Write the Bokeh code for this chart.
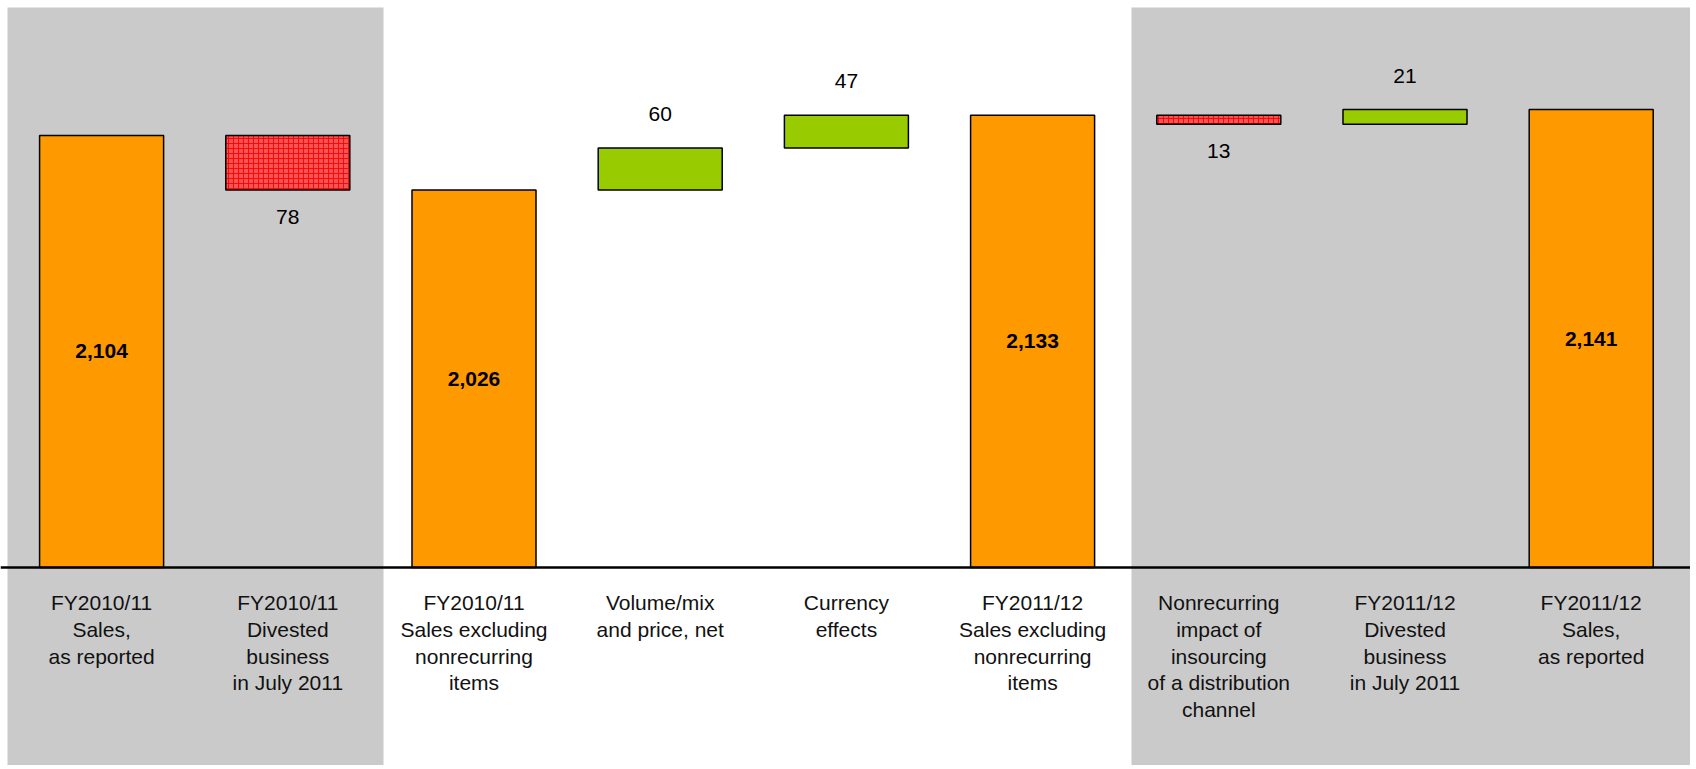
from bokeh.plotting import figure
from bokeh.models import ColumnDataSource, BoxAnnotation, Span, Range1d
from bokeh.core.properties import value
from bokeh.embed import file_html
from bokeh.resources import INLINE

# ---- data ----
categories = [
    "FY2010/11\nSales,\nas reported",
    "FY2010/11\nDivested\nbusiness\nin July 2011",
    "FY2010/11\nSales excluding\nnonrecurring\nitems",
    "Volume/mix\nand price, net",
    "Currency\neffects",
    "FY2011/12\nSales excluding\nnonrecurring\nitems",
    "Nonrecurring\nimpact of\ninsourcing\nof a distribution\nchannel",
    "FY2011/12\nDivested\nbusiness\nin July 2011",
    "FY2011/12\nSales,\nas reported",
]
values = [2104, -78, 2026, 60, 47, 2133, -13, 21, 2141]
kinds = ["total", "delta", "total", "delta", "delta", "total", "delta", "delta", "total"]
axis_base = 1487  # value at which the (broken) axis line sits

ORANGE = "#FF9900"
GREEN = "#99CC00"
RED = "#F45454"
GRAY = "#CACACA"
FONT = "Liberation Sans"

# ---- waterfall geometry from data ----
xs = list(range(len(categories)))
bottoms, tops = [], []
running = 0
for v, k in zip(values, kinds):
    if k == "total":
        bottoms.append(axis_base)
        tops.append(v)
        running = v
    else:
        lo, hi = sorted([running, running + v])
        bottoms.append(lo)
        tops.append(hi)
        running += v

tot_idx = [i for i, k in enumerate(kinds) if k == "total"]
pos_idx = [i for i, k in enumerate(kinds) if k == "delta" and values[i] > 0]
neg_idx = [i for i, k in enumerate(kinds) if k == "delta" and values[i] < 0]

def sub(idx):
    return ColumnDataSource(dict(
        x=[xs[i] for i in idx],
        bottom=[bottoms[i] for i in idx],
        top=[tops[i] for i in idx],
        mid=[(bottoms[i] + tops[i]) / 2 for i in idx],
        label=[f"{abs(values[i]):,}" for i in idx],
    ))

W = 1690
H = 765
step = 186.2
px_per_unit = 0.70
x_start = -101.1 / step
x_end = x_start + W / step
y_top = 2104 + 135 / px_per_unit
y_bot = y_top - H / px_per_unit
gray_top = y_top - 7 / px_per_unit
gray_left = x_start + 7 / step

p = figure(width=W, height=H, output_backend="svg", toolbar_location=None,
           x_range=Range1d(x_start, x_end), y_range=Range1d(y_bot, y_top),
           min_border=0, min_border_left=0, min_border_right=0,
           min_border_top=0, min_border_bottom=0)
p.axis.visible = False
p.grid.visible = False
p.outline_line_color = None
p.background_fill_color = "white"
p.border_fill_color = "white"

# shaded panels
p.add_layout(BoxAnnotation(left=gray_left, right=1.514, top=gray_top,
                           fill_color=GRAY, fill_alpha=1, line_color=None,
                           level="underlay"))
p.add_layout(BoxAnnotation(left=5.531, right=x_end + 1, top=gray_top,
                           fill_color=GRAY, fill_alpha=1, line_color=None,
                           level="underlay"))

bw = 0.666
p.vbar(x="x", bottom="bottom", top="top", width=bw, source=sub(tot_idx),
       fill_color=ORANGE, line_color="black", line_width=1.5)
p.vbar(x="x", bottom="bottom", top="top", width=bw, source=sub(pos_idx),
       fill_color=GREEN, line_color="black", line_width=1.5)
p.vbar(x="x", bottom="bottom", top="top", width=bw, source=sub(neg_idx),
       fill_color=RED, line_color="black", line_width=1.5,
       hatch_pattern="+", hatch_color="#FF0000", hatch_scale=5, hatch_weight=1,
       hatch_alpha=0.9)

# axis line
p.add_layout(Span(location=axis_base, dimension="width", line_color="black",
                  line_width=2.5))

# value labels
p.text(x="x", y="mid", text="label", source=sub(tot_idx),
       text_font=value(FONT), text_font_size="21px", text_font_style="bold",
       text_align="center", text_baseline="middle", text_color="black")
p.text(x="x", y="top", text="label", source=sub(pos_idx),
       text_font=value(FONT), text_font_size="21px",
       text_align="center", text_baseline="middle", text_color="black",
       y_offset=-34)
p.text(x="x", y="bottom", text="label", source=sub(neg_idx),
       text_font=value(FONT), text_font_size="21px",
       text_align="center", text_baseline="middle", text_color="black",
       y_offset=27)

# category labels
cat_src = ColumnDataSource(dict(x=xs, y=[axis_base] * len(xs), label=categories))
p.text(x="x", y="y", text="label", source=cat_src,
       text_font=value(FONT), text_font_size="21px",
       text_align="center", text_baseline="top", text_color="#111111",
       text_line_height=1.16, y_offset=24)

open("out.html", "w").write(file_html(p, INLINE))
